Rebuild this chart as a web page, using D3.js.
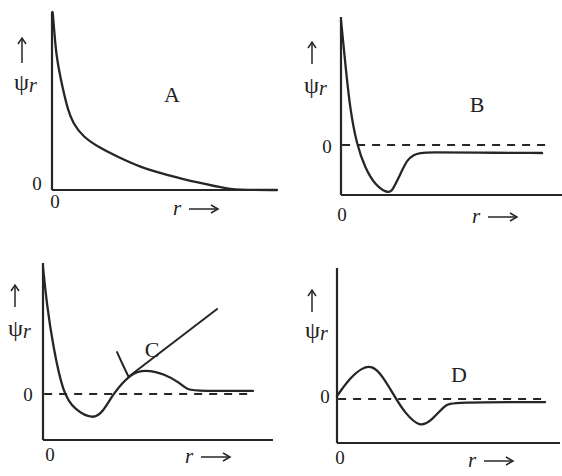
<!DOCTYPE html>
<html>
<head>
<meta charset="utf-8">
<script src="https://cdn.jsdelivr.net/npm/d3@7"></script>
<style>
  html, body { margin: 0; padding: 0; background: #fff; }
  svg { display: block; }
  text { font-family: "Liberation Serif", "Times New Roman", serif; fill: #222; }
</style>
</head>
<body>
<svg id="chart" width="562" height="476"></svg>
<script>
// ---------- DATA (r, psi_r) ----------
const panelNames = ["A", "B", "C", "D"];
const xDomain = [0, 10];

const curveA = [[0.02, 10.0], [0.04, 9.89], [0.13, 8.43], [0.22, 7.3], [0.49, 5.62], [0.71, 4.49], [0.93, 3.76],
  [1.38, 2.98], [2.13, 2.36], [3.02, 1.8], [3.91, 1.29], [5.11, 0.84], [6.58, 0.39],
  [7.78, 0.06], [8.58, 0], [10, 0], [10, 0]];
const curveB = [[0, 7.8], [0, 7.8], [0.18, 5.3], [0.41, 2.2], [0.72, 0], [1.09, -1.44], [1.54, -2.5],
  [2.08, -3.0], [2.3, -2.9], [2.5, -2.35], [2.76, -1.6], [2.99, -0.94], [3.3, -0.6], [3.57, -0.5],
  [4.03, -0.44], [6.0, -0.48], [9.1, -0.5], [9.1, -0.5]];
const curveC = [[0, 7.94], [0, 7.94], [0.17, 5.56], [0.43, 3.06], [0.87, 0], [1.39, -1.0], [2.17, -1.6],
  [2.61, -1.12], [3.04, 0], [3.78, 1.25], [4.43, 1.55], [5.3, 1.25], [5.96, 0.69], [6.26, 0.25],
  [6.83, 0.19], [9.13, 0.19], [9.13, 0.19]];
const lineC = [[3.72, 1.08], [7.57, 5.31]];
const leaderC = [[3.22, 2.62], [3.48, 1.8], [3.72, 1.08]];
const curveD = [[0, 0.19], [0, 0.19], [0.58, 1.31], [1.12, 1.95], [1.57, 2.1], [2.02, 1.5], [2.6, 0.12],
  [3.05, -0.88], [3.72, -1.8], [4.26, -1.31], [4.84, -0.38], [5.16, -0.19], [9.33, -0.19], [9.33, -0.19]];

const yDomains = { A: [0, 10], B: [-3.125, 8], C: [-2.875, 8.19], D: [-2.75, 8.19] };
const dashedEnd = { A: null, B: 9.46, C: 9.13, D: 9.33 };
const zeroLabel = "0";
const yLabel = "ψ";
const ySub = "r";
const xLabel = "r";

// ---------- LAYOUT (pixel frames) ----------
const frames = {
  A: { x0: 52, x1: 277, yb: 190, yt: 12 },
  B: { x0: 341, x1: 562, yb: 195, yt: 17 },
  C: { x0: 43, x1: 273, yb: 440, yt: 263 },
  D: { x0: 337, x1: 560, yb: 443, yt: 268 }
};
const labelPos = {
  A: { arrowX: 22, arrowY0: 63, arrowY1: 38, psiX: 14, psiY: 90, nameX: 172, nameY: 102,
       zx: 37, zy: 190, bx: 55, by: 208, rx: 173, ry: 215 },
  B: { arrowX: 312, arrowY0: 64, arrowY1: 42, psiX: 304, psiY: 93, nameX: 477, nameY: 112,
       zx: 327, zy: 153, bx: 342, by: 221, rx: 472, ry: 223 },
  C: { arrowX: 15, arrowY0: 307, arrowY1: 285, psiX: 8, psiY: 336, nameX: 152, nameY: 357,
       zx: 28, zy: 401, bx: 50, by: 461, rx: 185, ry: 463 },
  D: { arrowX: 312, arrowY0: 312, arrowY1: 290, psiX: 305, psiY: 338, nameX: 459, nameY: 382,
       zx: 325, zy: 403, bx: 340, by: 464, rx: 468, ry: 467 }
};

const curves = { A: [curveA], B: [curveB], C: [curveC], D: [curveD] };
const straights = { A: [], B: [], C: [lineC, leaderC], D: [] };

const ink = "#262626";
const svg = d3.select("#chart");

panelNames.forEach(name => {
  const f = frames[name], L = labelPos[name];
  const x = d3.scaleLinear().domain(xDomain).range([f.x0, f.x1]);
  const y = d3.scaleLinear().domain(yDomains[name]).range([f.yb, f.yt]);
  const g = svg.append("g").attr("class", "panel-" + name);
  const ymin = yDomains[name][0], ymax = yDomains[name][1];

  // axes
  g.append("line").attr("x1", x(0)).attr("x2", x(0)).attr("y1", y(ymin)).attr("y2", y(ymax))
    .attr("stroke", ink).attr("stroke-width", 2.2);
  g.append("line").attr("x1", x(0)).attr("x2", x(10)).attr("y1", y(ymin)).attr("y2", y(ymin))
    .attr("stroke", ink).attr("stroke-width", 2.2);

  // dashed zero line
  if (dashedEnd[name] !== null) {
    g.append("line").attr("x1", x(0.05)).attr("x2", x(dashedEnd[name])).attr("y1", y(0)).attr("y2", y(0))
      .attr("stroke", ink).attr("stroke-width", 2).attr("stroke-dasharray", "8,7");
  }

  // curves
  const line = d3.line().x(d => x(d[0])).y(d => y(d[1])).curve(d3.curveBasis);
  curves[name].forEach(c => {
    g.append("path").attr("d", line(c)).attr("fill", "none").attr("stroke", ink)
      .attr("stroke-width", 2.3).attr("stroke-linejoin", "round").attr("stroke-linecap", "round");
  });
  const sline = d3.line().x(d => x(d[0])).y(d => y(d[1])).curve(d3.curveMonotoneX);
  straights[name].forEach(c => {
    g.append("path").attr("d", sline(c)).attr("fill", "none").attr("stroke", ink)
      .attr("stroke-width", 2).attr("stroke-linecap", "round");
  });

  // up arrow
  g.append("line").attr("x1", L.arrowX).attr("x2", L.arrowX).attr("y1", L.arrowY0).attr("y2", L.arrowY1)
    .attr("stroke", ink).attr("stroke-width", 1.5);
  g.append("path").attr("d", `M${L.arrowX - 4},${L.arrowY1 + 6} L${L.arrowX},${L.arrowY1} L${L.arrowX + 4},${L.arrowY1 + 6}`)
    .attr("fill", "none").attr("stroke", ink).attr("stroke-width", 1.5);

  // psi_r label
  const t = g.append("text").attr("x", L.psiX).attr("y", L.psiY).attr("font-size", 24);
  t.append("tspan").text(yLabel);
  t.append("tspan").attr("font-style", "italic").attr("font-size", 20).attr("dy", 2).text(ySub);

  // panel name
  g.append("text").attr("x", L.nameX).attr("y", L.nameY).attr("text-anchor", "middle")
    .attr("font-size", 22).text(name);

  // zero labels
  g.append("text").attr("x", L.zx).attr("y", L.zy).attr("text-anchor", "middle")
    .attr("font-size", 19).text(zeroLabel);
  g.append("text").attr("x", L.bx).attr("y", L.by).attr("text-anchor", "middle")
    .attr("font-size", 19).text(zeroLabel);

  // r ->
  const rt = g.append("text").attr("x", L.rx).attr("y", L.ry).attr("font-size", 21);
  rt.append("tspan").attr("font-style", "italic").text(xLabel);
  g.append("line").attr("x1", L.rx + 16).attr("x2", L.rx + 44).attr("y1", L.ry - 6).attr("y2", L.ry - 6)
    .attr("stroke", ink).attr("stroke-width", 1.5);
  g.append("path").attr("d", `M${L.rx + 38},${L.ry - 10} L${L.rx + 45},${L.ry - 6} L${L.rx + 38},${L.ry - 2}`)
    .attr("fill", "none").attr("stroke", ink).attr("stroke-width", 1.5);
});
</script>
</body>
</html>
